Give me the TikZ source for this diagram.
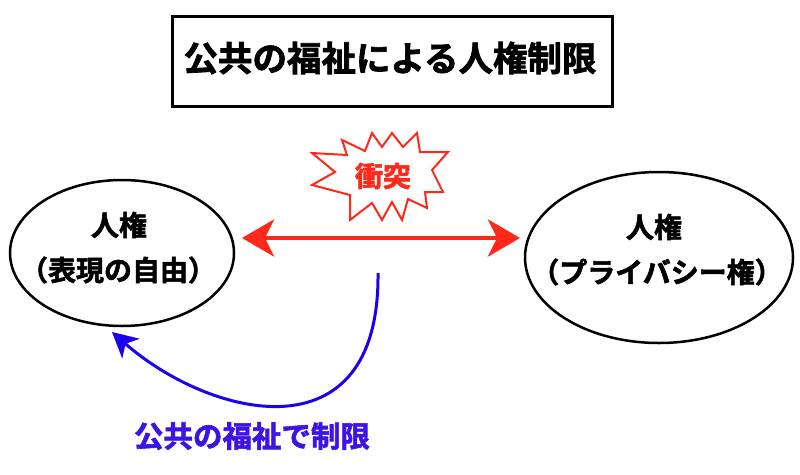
\documentclass[tikz,border=0pt]{standalone}
\usepackage{fontspec}
\newfontfamily\cjk{Noto Sans CJK JP}[BoldFont={Noto Sans CJK JP Bold},BoldFeatures={FakeBold=2}]
\usetikzlibrary{arrows.meta,shapes.geometric}
\definecolor{myred}{RGB}{255,40,25}
\definecolor{myblue}{RGB}{30,0,240}
\definecolor{labelblue}{RGB}{60,20,230}
\begin{document}
\begin{tikzpicture}[x=1pt,y=-1pt,
  txt/.style={font=\cjk\bfseries\fontsize{28}{32}\selectfont, inner sep=0pt},
  oval/.style={ellipse, draw, line width=2.5pt, inner sep=0pt}]
\useasboundingbox[fill=white] (0,0) rectangle (800,474);
% title
\node[draw, line width=2.6pt, minimum width=440pt, minimum height=90pt, inner sep=0pt] (titlebox) at (392.5,61.5) {};
\node[txt, font=\cjk\bfseries\fontsize{34.5}{40}\selectfont] (title) at (390,58) {公共の福祉による人権制限};
% ellipses
\node[oval, minimum width=224pt, minimum height=146pt] (L) at (122,253) {};
\node[txt] (L1) at (119,225) {人権};
\node[txt] (L2) at (118,270) {（表現の自由）};
\node[oval, minimum width=268pt, minimum height=171pt] (R) at (659,257.5) {};
\node[txt] (R1) at (654,227) {人権};
\node[txt] (R2) at (657,272) {（プライバシー権）};
% red double arrow
\coordinate (a1) at (242,238);
\coordinate (a2) at (520,238);
\draw[myred, line width=4pt, {Stealth[length=32pt,width=37pt,inset=9pt]}-{Stealth[length=32pt,width=37pt,inset=9pt]}] (a1) -- (a2);
% starburst
\draw[myred, line width=2pt, line join=miter, fill=white]
  (312,153) -- (347,155) -- (342,140) -- (365,151) -- (372,133) -- (382,147)
  -- (392,133) -- (403,147) -- (417,133) -- (420,152) -- (448,152) -- (432,170)
  -- (443,192) -- (425,192) -- (427,208) -- (408,199) -- (402,220) -- (392,202)
  -- (382,220) -- (372,203) -- (350,220) -- (350,195) -- (312,185) -- (335,172) -- cycle;
\node[txt, text=myred, font=\cjk\bfseries\fontsize{28}{30}\selectfont] (clash) at (383,176) {衝突};
% blue curved arrow
\coordinate (b0) at (378,273);
\coordinate (b1) at (112,332);
\draw[myblue, line width=3pt, -{Stealth[length=25pt,width=26pt,inset=7pt]}]
  (b0) .. controls (380,460) and (210,418) .. (b1);
\node[txt, text=labelblue, font=\cjk\bfseries\fontsize{29.5}{34}\selectfont] (lab) at (252,436) {公共の福祉で制限};
\end{tikzpicture}
\end{document}
